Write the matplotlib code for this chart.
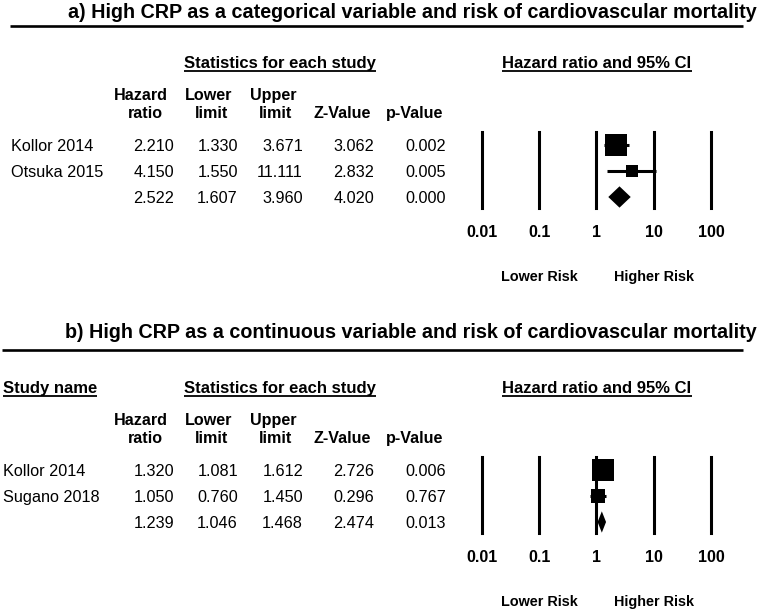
import numpy as np
import matplotlib.pyplot as plt

plt.rcParams['font.family'] = ['Liberation Sans', 'DejaVu Sans']

# a) categorical CRP
studies_a = ['Kollor 2014', 'Otsuka 2015', '']
hr_a = [2.210, 4.150, 2.522]
lower_a = [1.330, 1.550, 1.607]
upper_a = [3.671, 11.111, 3.960]
z_a = [3.062, 2.832, 4.020]
p_a = [0.002, 0.005, 0.000]
weight_a = [77, 23]   # relative weights (square size)

# b) continuous CRP
studies_b = ['Kollor 2014', 'Sugano 2018', '']
hr_b = [1.320, 1.050, 1.239]
lower_b = [1.081, 0.760, 1.046]
upper_b = [1.612, 1.450, 1.468]
z_b = [2.726, 0.296, 2.474]
p_b = [0.006, 0.767, 0.013]
weight_b = [71, 29]

ticks = [0.01, 0.1, 1, 10, 100]
tick_labels = ['0.01', '0.1', '1', '10', '100']
head_top = ['Hazard', 'Lower', 'Upper']
head_bot = ['ratio', 'limit', 'limit', 'Z-Value', 'p-Value']

W, H = 762, 611
fig = plt.figure(figsize=(W / 100, H / 100), dpi=100)
bg = fig.add_axes([0, 0, 1, 1])
bg.set_xlim(0, W)
bg.set_ylim(H, 0)
bg.axis('off')
renderer = fig.canvas.get_renderer()


def underlined(x, y, s):
    t = bg.text(x, y, s, ha='center', va='baseline', fontsize=12, fontweight='bold')
    bb = t.get_window_extent(renderer=renderer).transformed(bg.transData.inverted())
    bg.plot([bb.x0, bb.x1], [y + 3, y + 3], color='black', lw=1.3, solid_capstyle='butt')


def panel(y0, title, title_x, title_y, line_y, line_x0, name_x, show_name,
          studies, hr, lo, hi, z, p, w):
    bg.text(title_x, title_y, title, ha='center', va='baseline', fontsize=14.2, fontweight='bold')
    bg.plot([line_x0, 743], [line_y, line_y], color='black', lw=1.9, solid_capstyle='butt')

    if show_name:
        t = bg.text(3, y0 + 68, 'Study name', ha='left', va='baseline', fontsize=12, fontweight='bold')
        bb = t.get_window_extent(renderer=renderer).transformed(bg.transData.inverted())
        bg.plot([bb.x0, bb.x1], [y0 + 71, y0 + 71], color='black', lw=1.3, solid_capstyle='butt')
    underlined(280, y0 + 68, 'Statistics for each study')
    underlined(597, y0 + 68, 'Hazard ratio and 95% CI')

    for s, cx in zip(head_top, [141, 209, 273]):
        bg.text(cx, y0 + 100, s, ha='center', va='baseline', fontsize=11.6, fontweight='bold')
    for s, cx in zip(head_bot, [145, 212, 276, 342, 415]):
        bg.text(cx, y0 + 118, s, ha='center', va='baseline', fontsize=11.6, fontweight='bold')

    col_right = [174, 238, 303, 374, 446]
    for i in range(len(studies)):
        yb = y0 + 151 + 26 * i
        bg.text(name_x, yb, studies[i], ha='left', va='baseline', fontsize=11.7)
        for v, xr in zip([hr[i], lo[i], hi[i], z[i], p[i]], col_right):
            bg.text(xr, yb, f'{v:.3f}', ha='right', va='baseline', fontsize=11.7)

    # forest plot
    ax = fig.add_axes([482 / W, 1 - (y0 + 208) / H, (711 - 482) / W, 76 / H])
    ax.set_xscale('log')
    ax.set_xlim(0.01, 100)
    ax.set_ylim(2 + 11 / 26, -13 / 26)
    for s in ax.spines.values():
        s.set_visible(False)
    ax.set_yticks([])
    ax.set_xticks(ticks)
    ax.set_xticklabels(tick_labels, fontsize=11.5, fontweight='bold')
    ax.minorticks_off()
    ax.tick_params(axis='x', length=0, pad=12)
    ax.patch.set_alpha(0)
    for t in ticks:
        ax.axvline(t, color='black', lw=2.2, clip_on=False)

    n = len(w)
    side = 22 * np.sqrt(np.array(w) / max(w)) * 0.72
    for i in range(n):
        ax.hlines(i, lo[i], hi[i], color='black', lw=2.2)
        ax.plot(hr[i], i, marker='s', ms=side[i], color='black', mew=0)
    yd = n
    h = 0.41
    ax.fill([lo[yd], hr[yd], hi[yd], hr[yd]], [yd, yd - h, yd, yd + h], color='black', lw=0)

    tr = ax.get_xaxis_transform()
    ax.text(0.1, -73 / 76, 'Lower Risk', transform=tr, ha='center', va='baseline',
            fontsize=10.4, fontweight='bold')
    ax.text(10, -73 / 76, 'Higher Risk', transform=tr, ha='center', va='baseline',
            fontsize=10.4, fontweight='bold')


panel(0, 'a) High CRP as a categorical variable and risk of cardiovascular mortality',
      412, 18.5, 26, 10, 11, False,
      studies_a, hr_a, lower_a, upper_a, z_a, p_a, weight_a)
panel(325, 'b) High CRP as a continuous variable and risk of cardiovascular mortality',
      411, 337.5, 349.5, 2, 3, True,
      studies_b, hr_b, lower_b, upper_b, z_b, p_b, weight_b)

fig.savefig('out.png', dpi=100, facecolor='white')
